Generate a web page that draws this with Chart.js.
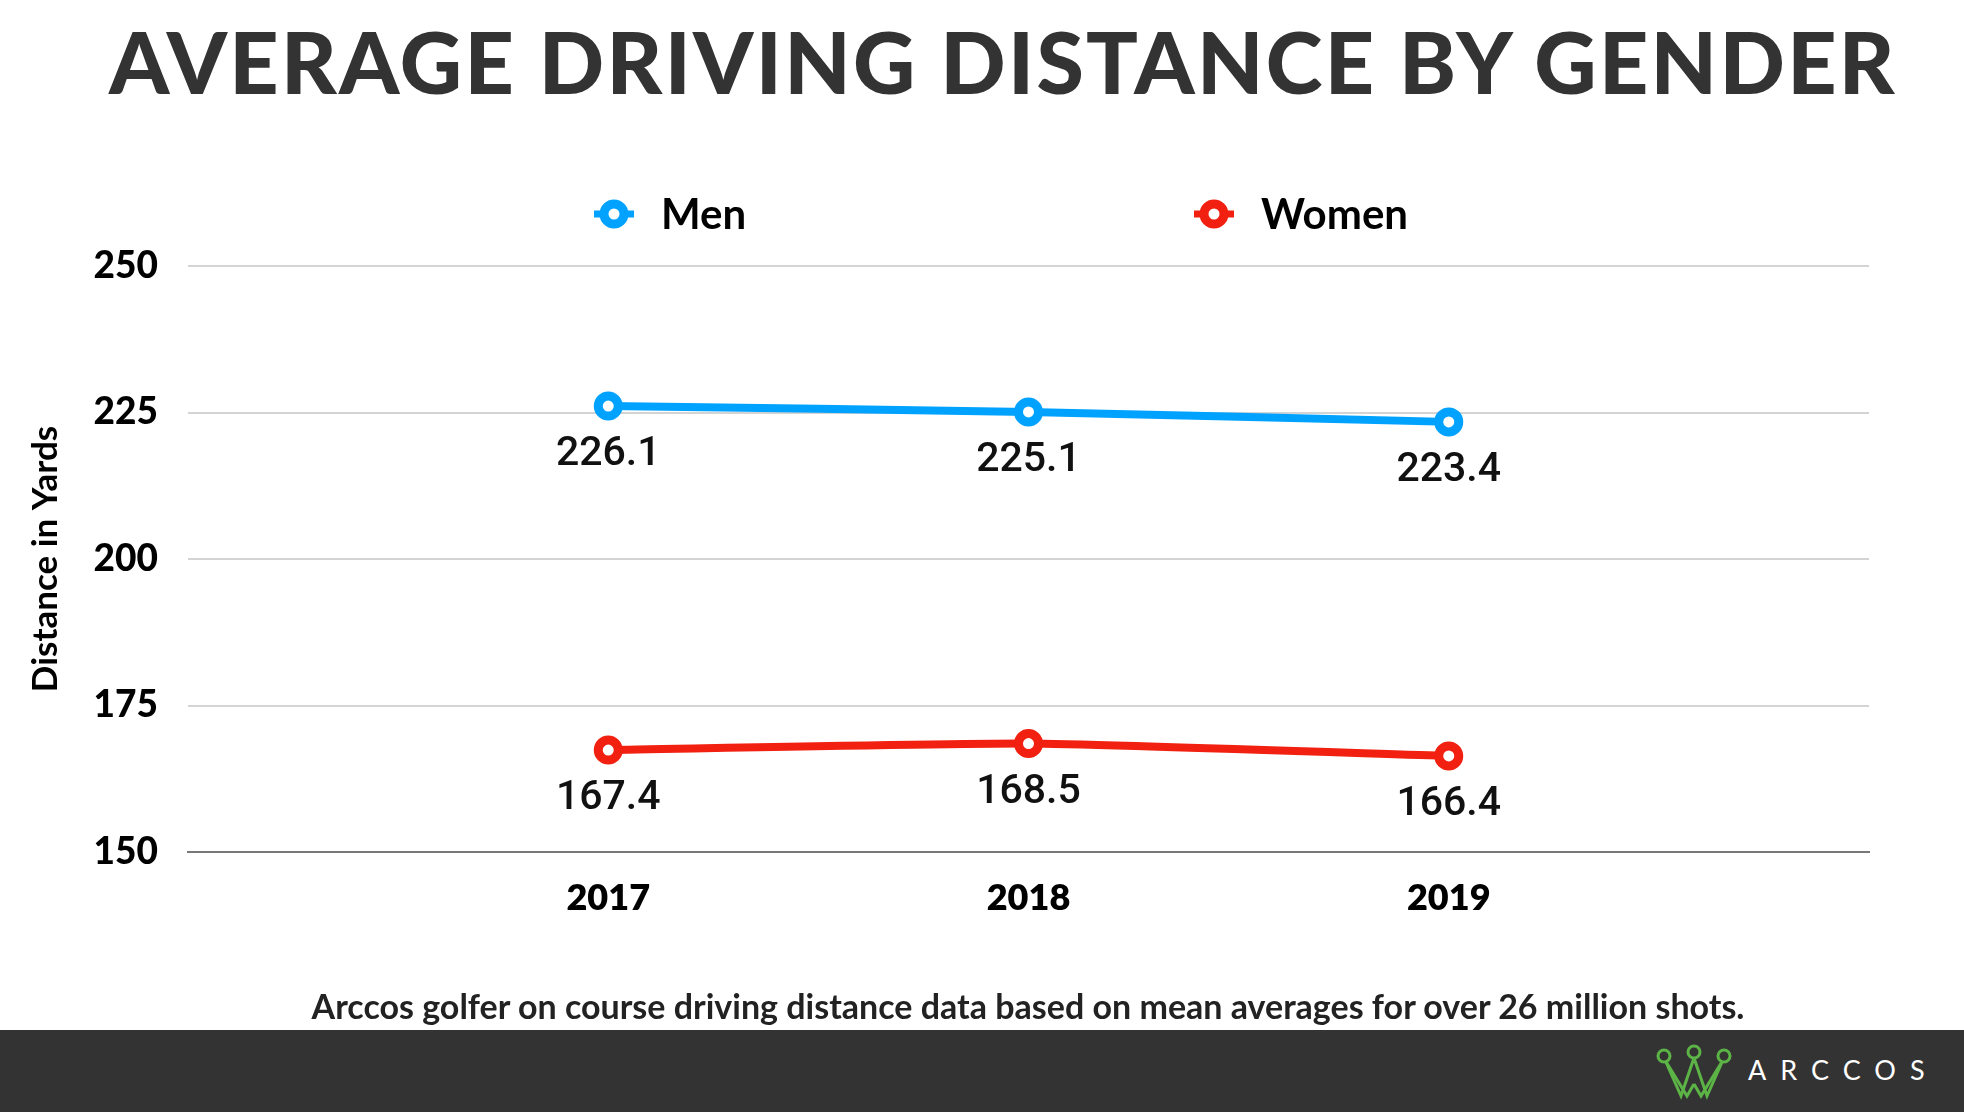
<!DOCTYPE html>
<html>
<head>
<meta charset="utf-8">
<script src="https://cdn.jsdelivr.net/npm/chart.js@4.4.1/dist/chart.umd.min.js"></script>
<style>
  html, body { margin: 0; padding: 0; background: #fff; }
  body { width: 1964px; height: 1112px; position: relative; overflow: hidden; font-family: Lato, "DejaVu Sans", sans-serif; }
  #title { position: absolute; left: 21px; width: 1964px; top: 18px; text-align: center; font-size: 86px; line-height: 86px; font-weight: 900; color: #333; letter-spacing: 2.3px; }
  #chartBox { position: absolute; left: 0; top: 0; width: 1964px; height: 1030px; }
  #caption { position: absolute; left: 94px; width: 1868px; top: 989px; text-align: center; font-size: 34px; line-height: 34px; font-weight: 700; color: #222; }
  #footer { position: absolute; left: 0; top: 1030px; width: 1964px; height: 82px; background: #333; }
  #logo { position: absolute; left: 1654px; top: 14px; }
  #brand { position: absolute; left: 1748px; top: 25px; font-size: 27px; line-height: 30px; font-weight: 400; color: #fff; letter-spacing: 14px; }
</style>
</head>
<body>
<div id="title">AVERAGE DRIVING DISTANCE BY GENDER</div>
<div id="chartBox"><canvas id="chart" width="1964" height="1030"></canvas></div>
<div id="caption">Arccos golfer on course driving distance data based on mean averages for over 26 million shots.</div>
<div id="footer">
  <svg id="logo" width="80" height="60" viewBox="0 0 80 60">
    <g fill="none" stroke="#5cb346" stroke-width="3">
      <polyline points="11,16 27,52 40,14 53,52 69,16"/>
      <polyline points="11,16 33,52 40,40"/>
      <polyline points="69,16 47,52 40,40"/>
      <circle cx="10" cy="12" r="6" fill="#333"/>
      <circle cx="40" cy="8" r="6" fill="#333"/>
      <circle cx="70" cy="12" r="6" fill="#333"/>
    </g>
  </svg>
  <div id="brand">ARCCOS</div>
</div>
<script>
  // data
  const years = [2017, 2018, 2019];
  const men = [226.1, 225.1, 223.4];
  const women = [167.4, 168.5, 166.4];
  const yTicks = [150, 175, 200, 225, 250];
  const seriesNames = ['Men', 'Women'];
  const seriesColors = ['#00a2ff', '#f22010'];

  function toPoints(vals) {
    return years.map((y, i) => ({ x: y, y: vals[i] }));
  }

  // value labels under each point
  const valueLabels = {
    id: 'valueLabels',
    afterDatasetsDraw(chart) {
      const ctx = chart.ctx;
      ctx.save();
      ctx.font = '500 41px Roboto, Lato, sans-serif';
      ctx.fillStyle = '#111';
      ctx.textAlign = 'center';
      ctx.textBaseline = 'middle';
      chart.data.datasets.forEach((ds, di) => {
        chart.getDatasetMeta(di).data.forEach((pt, i) => {
          ctx.fillText(ds.data[i].y.toFixed(1), pt.x, pt.y + 49);
        });
      });
      ctx.restore();
    }
  };

  // legend with line + ring icon
  const lineLegend = {
    id: 'lineLegend',
    afterDraw(chart, args, opts) {
      const ctx = chart.ctx;
      ctx.save();
      chart.data.datasets.forEach((ds, i) => {
        const cx = opts.x[i], cy = opts.y;
        ctx.strokeStyle = ds.borderColor;
        ctx.lineWidth = 7;
        ctx.beginPath();
        ctx.moveTo(cx - 20, cy);
        ctx.lineTo(cx + 20, cy);
        ctx.stroke();
        ctx.beginPath();
        ctx.arc(cx, cy, 10, 0, Math.PI * 2);
        ctx.fillStyle = '#fff';
        ctx.fill();
        ctx.lineWidth = 9;
        ctx.stroke();
        ctx.fillStyle = '#000';
        ctx.font = '700 42px Lato, sans-serif';
        ctx.textAlign = 'left';
        ctx.textBaseline = 'middle';
        ctx.fillText(ds.label, cx + 47, cy + 1);
      });
      ctx.restore();
    }
  };

  new Chart(document.getElementById('chart'), {
    type: 'line',
    data: {
      datasets: [men, women].map((vals, i) => ({
        label: seriesNames[i],
        data: toPoints(vals),
        borderColor: seriesColors[i],
        backgroundColor: seriesColors[i],
        borderWidth: 8,
        tension: 0.15,
        pointRadius: 10,
        pointHoverRadius: 10,
        pointBorderWidth: 9,
        pointBackgroundColor: '#fff',
        pointBorderColor: seriesColors[i],
      })),
    },
    options: {
      responsive: false,
      animation: false,
      layout: { padding: { top: 266, left: 0, right: 95, bottom: 78 } },
      plugins: {
        legend: { display: false },
        tooltip: { enabled: false },
        lineLegend: { x: [614, 1214], y: 214 },
      },
      scales: {
        x: {
          type: 'linear',
          min: years[0] - 1,
          max: years[years.length - 1] + 1,
          afterFit(scale) { scale.height = 100; },
          grid: { display: false },
          border: { display: true, color: '#777', width: 2 },
          ticks: {
            stepSize: 1,
            padding: 17,
            color: '#000',
            font: { family: 'Lato', size: 36, weight: '800' },
            callback: v => years.includes(v) ? String(v) : '',
          },
        },
        y: {
          min: yTicks[0],
          max: yTicks[yTicks.length - 1],
          afterFit(scale) { scale.width = 188; },
          afterBuildTicks(scale) { scale.ticks = yTicks.map(v => ({ value: v })); },
          border: { display: false },
          grid: {
            drawTicks: false,
            color: c => c.tick && c.tick.value === yTicks[0] ? '#777' : '#d4d4d4',
            lineWidth: 2,
          },
          ticks: {
            padding: 30,
            color: '#000',
            font: { family: 'Lato', size: 37, weight: '900' },
          },
          title: {
            display: true,
            text: 'Distance in Yards',
            color: '#000',
            padding: { top: 25, bottom: 0 },
            font: { family: 'Lato', size: 35, weight: '700' },
          },
        },
      },
    },
    plugins: [valueLabels, lineLegend],
  });
</script>
</body>
</html>
